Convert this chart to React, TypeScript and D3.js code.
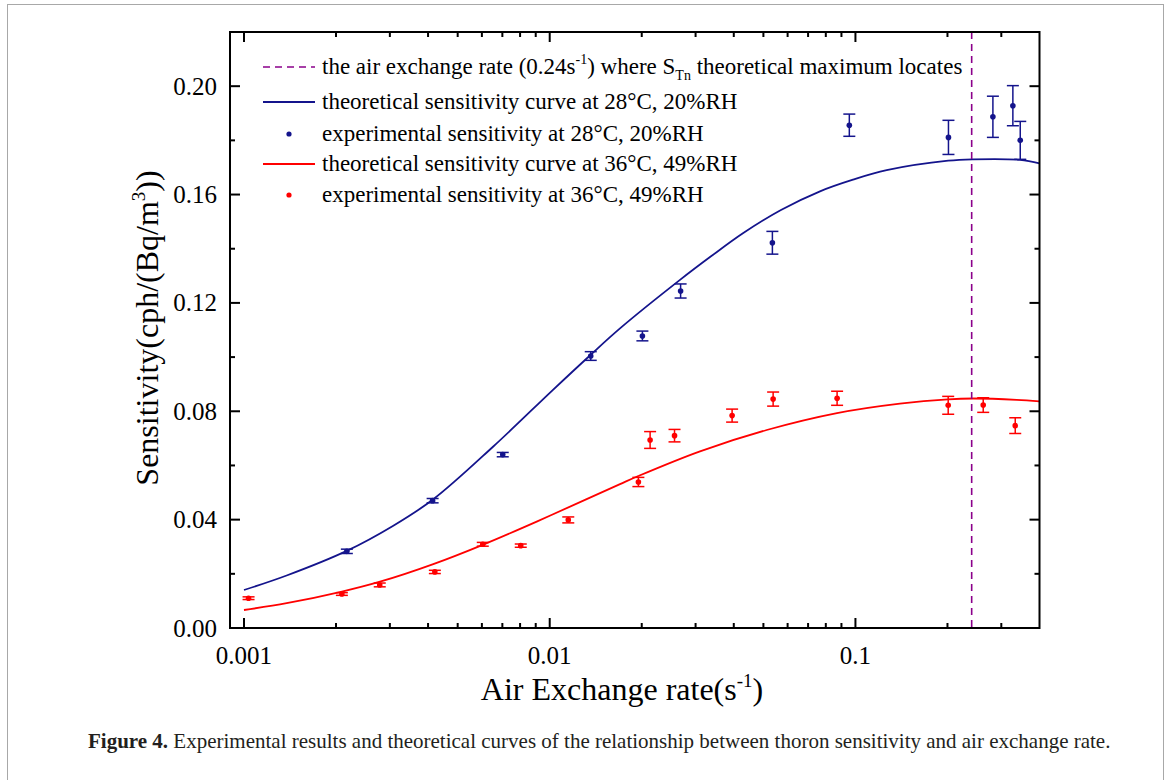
import * as d3 from "d3";

// experimental sensitivity at 28°C, 20%RH
const blueRate = [0.00217, 0.00414, 0.00702, 0.01362, 0.0201, 0.0268, 0.0535, 0.0955, 0.2015, 0.2816, 0.3273, 0.346];
const blueSens = [0.0283, 0.047, 0.064, 0.1004, 0.1078, 0.1244, 0.1422, 0.1856, 0.1811, 0.1887, 0.1928, 0.18];
const blueErr = [0.0008, 0.0008, 0.0008, 0.0016, 0.0018, 0.0026, 0.0042, 0.0041, 0.0063, 0.0076, 0.0074, 0.007];

// experimental sensitivity at 36°C, 49%RH
const redRate = [0.001035, 0.00209, 0.00278, 0.00421, 0.00604, 0.00804, 0.0115, 0.0195, 0.0213, 0.0256, 0.0395, 0.0538, 0.0871, 0.2011, 0.2618, 0.3332];
const redSens = [0.011, 0.01255, 0.0159, 0.0207, 0.0309, 0.0304, 0.0399, 0.0539, 0.0694, 0.071, 0.0784, 0.0845, 0.0848, 0.0822, 0.0823, 0.0747];
const redErr = [0.0005, 0.0005, 0.0007, 0.0006, 0.0007, 0.0006, 0.0011, 0.0017, 0.0031, 0.0023, 0.0024, 0.0026, 0.0026, 0.0033, 0.0027, 0.0029];

// theoretical curves
const blueCurveRate = [0.001, 0.001379, 0.002168, 0.003079, 0.004161, 0.006538, 0.01027, 0.01354, 0.01698, 0.02668, 0.0337, 0.04297, 0.05707, 0.07658, 0.09818, 0.1265, 0.2012, 0.2417, 0.3453, 0.4];
const blueCurveSens = [0.01403, 0.01938, 0.02846, 0.03776, 0.04751, 0.067, 0.088, 0.1006, 0.1106, 0.1285, 0.1372, 0.1458, 0.1543, 0.1612, 0.1655, 0.169, 0.1725, 0.173, 0.1728, 0.1715];
const redCurveRate = [0.001, 0.001379, 0.002092, 0.002786, 0.004161, 0.006038, 0.009066, 0.01321, 0.01698, 0.01949, 0.03102, 0.05126, 0.08702, 0.1398, 0.2007, 0.2429, 0.3368, 0.4];
const redCurveSens = [0.00664, 0.00915, 0.01344, 0.01709, 0.02359, 0.03071, 0.03928, 0.04758, 0.05312, 0.05611, 0.06523, 0.07309, 0.07933, 0.08283, 0.08442, 0.08471, 0.08423, 0.08365];

const maxRate = 0.24;
const xMajor = [0.001, 0.01, 0.1];
const xLabels = ["0.001", "0.01", "0.1"];
const yMajor = [0, 0.04, 0.08, 0.12, 0.16, 0.2];
const yLabels = ["0.00", "0.04", "0.08", "0.12", "0.16", "0.20"];

const NAVY = "#14148c";
const RED = "#ff0000";
const PURPLE = "#8b008b";
const FONT = "'Liberation Serif', 'Times New Roman', serif";

export default function App() {
  const left = 230, right = 1039.5, top = 32, bottom = 628;
  const x = d3.scaleLog().domain([0.0009, 0.4]).range([left, right]);
  const y = d3.scaleLinear().domain([0, 0.22]).range([bottom, top]);

  const line = d3
    .line<[number, number]>()
    .x((d) => x(d[0]))
    .y((d) => y(d[1]))
    .curve(d3.curveCatmullRom.alpha(0.5));

  const blueCurve = line(blueCurveRate.map((r, i) => [r, blueCurveSens[i]])) || "";
  const redCurve = line(redCurveRate.map((r, i) => [r, redCurveSens[i]])) || "";

  const xMinor = x.ticks().filter((t) => t > 0.00095 && t < 0.39 && !xMajor.some((m) => Math.abs(m - t) < 1e-9));
  const yMinor = y.ticks(11).filter((t) => t < 0.215 && !yMajor.some((m) => Math.abs(m - t) < 1e-9));

  const major = 10, minor = 5;

  const points = (rates: number[], sens: number[], errs: number[], color: string) =>
    rates.map((r, i) => {
      const cx = x(r);
      const y0 = y(sens[i] - errs[i]);
      const y1 = y(sens[i] + errs[i]);
      return (
        <g key={color + i} stroke={color} strokeWidth={1.5}>
          <line x1={cx} x2={cx} y1={y0} y2={y1} />
          <line x1={cx - 6} x2={cx + 6} y1={y0} y2={y0} />
          <line x1={cx - 6} x2={cx + 6} y1={y1} y2={y1} />
          <circle cx={cx} cy={y(sens[i])} r={2.8} fill={color} stroke="none" />
        </g>
      );
    });

  const legendRows = [67, 102, 134, 164, 195];
  const lx0 = 263, lx1 = 315, tx = 322;
  const fs = 23;

  return (
    <svg
      width={1168}
      height={780}
      style={{ position: "absolute", left: 0, top: 0, background: "#fff" }}
      fontFamily={FONT}
    >
      <rect x={7.5} y={4.5} width={1156} height={800} fill="#fff" stroke="#a8a8a8" strokeWidth={1} />

      {/* curves */}
      <path d={blueCurve} fill="none" stroke={NAVY} strokeWidth={1.8} />
      <path d={redCurve} fill="none" stroke={RED} strokeWidth={1.8} />

      {/* max line */}
      <line x1={x(maxRate)} x2={x(maxRate)} y1={top} y2={bottom} stroke={PURPLE} strokeWidth={1.6} strokeDasharray="7,5" />

      {points(blueRate, blueSens, blueErr, NAVY)}
      {points(redRate, redSens, redErr, RED)}

      {/* axes frame */}
      <g stroke="#000" strokeWidth={2}>
        {xMajor.map((t) => (
          <g key={"xm" + t}>
            <line x1={x(t)} x2={x(t)} y1={bottom} y2={bottom - major} />
            <line x1={x(t)} x2={x(t)} y1={top} y2={top + major} />
          </g>
        ))}
        {xMinor.map((t) => (
          <g key={"xn" + t}>
            <line x1={x(t)} x2={x(t)} y1={bottom} y2={bottom - minor} />
            <line x1={x(t)} x2={x(t)} y1={top} y2={top + minor} />
          </g>
        ))}
        {yMajor.map((t) => (
          <g key={"ym" + t}>
            <line x1={left} x2={left + major} y1={y(t)} y2={y(t)} />
            <line x1={right} x2={right - major} y1={y(t)} y2={y(t)} />
          </g>
        ))}
        {yMinor.map((t) => (
          <g key={"yn" + t}>
            <line x1={left} x2={left + minor} y1={y(t)} y2={y(t)} />
            <line x1={right} x2={right - minor} y1={y(t)} y2={y(t)} />
          </g>
        ))}
        <rect x={left} y={top} width={right - left} height={bottom - top} fill="none" />
      </g>

      {/* tick labels */}
      <g fontSize={25} fill="#000">
        {xMajor.map((t, i) => (
          <text key={"xl" + t} x={x(t)} y={bottom + 36} textAnchor="middle">
            {xLabels[i]}
          </text>
        ))}
        {yMajor.map((t, i) => (
          <text key={"yl" + t} x={217} y={y(t)} dy="0.34em" textAnchor="end">
            {yLabels[i]}
          </text>
        ))}
      </g>

      {/* axis titles */}
      <text x={622} y={700} fontSize={32} textAnchor="middle">
        Air Exchange rate(s
        <tspan fontSize={19} dy={-13}>-1</tspan>
        <tspan dy={13}>)</tspan>
      </text>
      <text transform="translate(158,328) rotate(-90)" fontSize={32} textAnchor="middle">
        Sensitivity(cph/(Bq/m
        <tspan fontSize={19} dy={-13}>3</tspan>
        <tspan dy={13}>))</tspan>
      </text>

      {/* legend */}
      <g fontSize={fs} fill="#000">
        <line x1={lx0} x2={lx1} y1={legendRows[0]} y2={legendRows[0]} stroke={PURPLE} strokeWidth={1.4} strokeDasharray="7,5" />
        <text x={tx} y={legendRows[0] + 7}>
          the air exchange rate (0.24s
          <tspan fontSize={14} dy={-10}>-1</tspan>
          <tspan dy={10}>) where S</tspan>
          <tspan fontSize={14} dy={6}>Tn</tspan>
          <tspan dy={-6}> theoretical maximum locates</tspan>
        </text>

        <line x1={lx0} x2={lx1} y1={legendRows[1]} y2={legendRows[1]} stroke={NAVY} strokeWidth={1.8} />
        <text x={tx} y={legendRows[1] + 7}>theoretical sensitivity curve at 28°C, 20%RH</text>

        <circle cx={(lx0 + lx1) / 2} cy={legendRows[2]} r={2.6} fill={NAVY} />
        <text x={tx} y={legendRows[2] + 7}>experimental sensitivity at 28°C, 20%RH</text>

        <line x1={lx0} x2={lx1} y1={legendRows[3]} y2={legendRows[3]} stroke={RED} strokeWidth={1.8} />
        <text x={tx} y={legendRows[3] + 7}>theoretical sensitivity curve at 36°C, 49%RH</text>

        <circle cx={(lx0 + lx1) / 2} cy={legendRows[4]} r={2.6} fill={RED} />
        <text x={tx} y={legendRows[4] + 7}>experimental sensitivity at 36°C, 49%RH</text>
      </g>

      {/* caption */}
      <text x={88} y={748} fontSize={21} fill="#231f20">
        <tspan fontWeight="bold">Figure 4.</tspan> Experimental results and theoretical curves of the relationship between thoron sensitivity and air exchange rate.
      </text>
    </svg>
  );
}
